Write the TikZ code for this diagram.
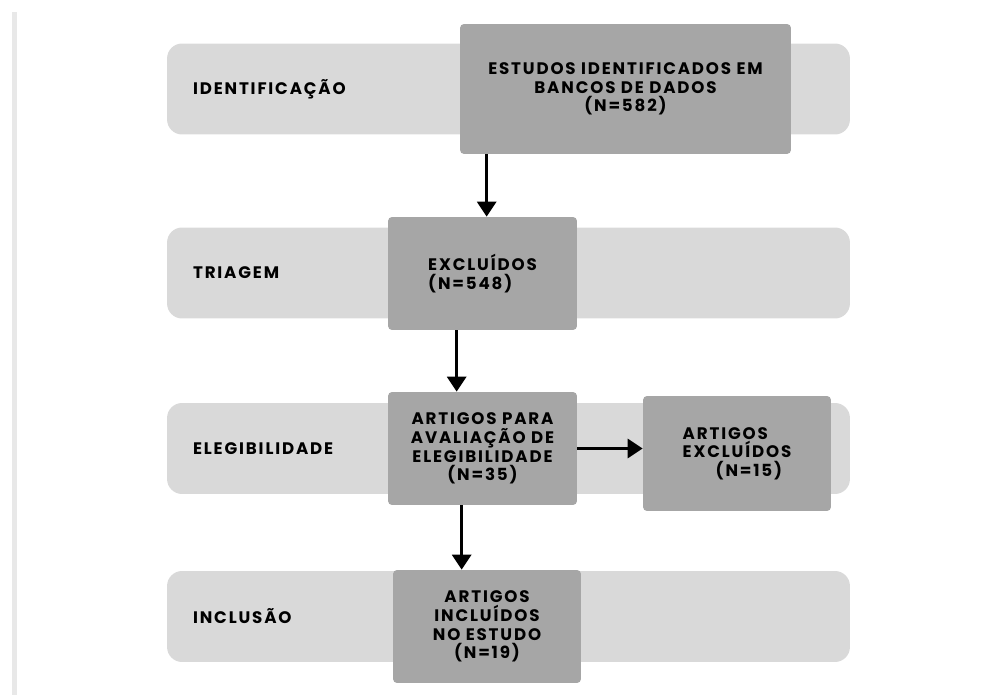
\documentclass[tikz,border=0pt]{standalone}
\usepackage{fontspec}
\setmainfont{Poppins}[LetterSpace=11]
\usetikzlibrary{arrows.meta}
\definecolor{bandgray}{HTML}{D9D9D9}
\definecolor{boxgray}{HTML}{A6A6A6}
\definecolor{stripgray}{HTML}{E8E8E8}
\tikzset{
  band/.style={fill=bandgray, rounded corners=0.3cm, minimum height=1.82cm,
    text width=12.62cm, inner xsep=0.52cm, align=left,
    font=\bfseries\fontsize{9.5}{10.6}\selectfont},
  stagebox/.style={fill=boxgray, rounded corners=0.08cm, inner sep=0pt,
    font=\bfseries\fontsize{9.5}{10.6}\selectfont},
  arr/.style={line width=1.7pt, -{Triangle[length=0.3cm, width=0.38cm]}}
}
\begin{document}
\begin{tikzpicture}[x=0.02cm, y=-0.02cm]
\useasboundingbox (0,0) rectangle (987,695);
\fill [stripgray] (12,12) rectangle (17,695);
\node [band] (idband) at (508.5,89) {IDENTIFICAÇÃO};
\node [band] (triband) at (508.5,273) {TRIAGEM};
\node [band] (eleband) at (508.5,448.5) {ELEGIBILIDADE};
\node [band] (incband) at (508.5,616.5) {INCLUSÃO};
\node [stagebox, minimum width=6.62cm, minimum height=2.6cm, align=center]
  (estudos) at (625.5,89) {ESTUDOS IDENTIFICADOS EM\\BANCOS DE DADOS\\(N=582)};
\node [stagebox, minimum width=3.78cm, minimum height=2.26cm, align=left]
  (excl) at (482.5,273.5) {EXCLUÍDOS\\(N=548)};
\node [stagebox, minimum width=3.78cm, minimum height=2.26cm, align=center]
  (aval) at (482.5,448.5) {ARTIGOS PARA\\AVALIAÇÃO DE\\ELEGIBILIDADE\\(N=35)};
\node [stagebox, minimum width=3.76cm, minimum height=2.3cm, align=left]
  (artexc) at (737,453.5) {ARTIGOS\\EXCLUÍDOS\\\hspace*{0.66cm}(N=15)};
\node [stagebox, minimum width=3.76cm, minimum height=2.26cm, align=center]
  (artinc) at (487,626.5) {ARTIGOS\\INCLUÍDOS\\NO ESTUDO\\(N=19)};
\draw [arr] ([xshift=0.54cm]estudos.south west) -- ([xshift=0.54cm]estudos.south west |- excl.north);
\draw [arr] ([xshift=1.38cm]excl.south west) -- ([xshift=1.38cm]excl.south west |- aval.north);
\draw [arr] (aval.east) -- (aval.east -| artexc.west);
\draw [arr] ([xshift=1.48cm]aval.south west) -- ([xshift=1.48cm]aval.south west |- artinc.north);
\end{tikzpicture}
\end{document}
